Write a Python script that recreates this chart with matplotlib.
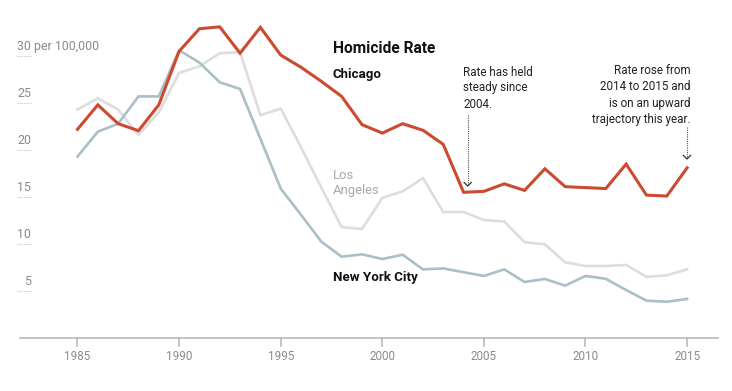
import matplotlib
matplotlib.use("Agg")
import matplotlib.pyplot as plt

years = list(range(1985, 2016))
chicago = [22.2, 24.8, 22.8, 22.05, 24.8, 30.5, 32.9, 33.1, 30.3, 33.05, 30.1, 28.8,
           27.3, 25.7, 22.7, 21.8, 22.8, 22.1, 20.6, 15.5, 15.6, 16.4, 15.7, 18.0,
           16.1, 16.0, 15.9, 18.5, 15.2, 15.1, 18.1]
la = [24.3, 25.5, 24.3, 21.6, 24.0, 28.2, 28.9, 30.3, 30.4, 23.7, 24.4, 20.3, 16.0,
      11.8, 11.6, 14.9, 15.6, 17.0, 13.4, 13.4, 12.55, 12.4, 10.2, 9.97, 8.05, 7.66,
      7.66, 7.77, 6.5, 6.67, 7.3]
nyc = [19.3, 21.95, 22.8, 25.7, 25.7, 30.6, 29.3, 27.2, 26.5, 21.2, 15.9, 13.1,
       10.25, 8.65, 8.9, 8.4, 8.86, 7.3, 7.4, 7.0, 6.6, 7.3, 5.96, 6.28, 5.57, 6.6,
       6.3, 5.1, 3.97, 3.86, 4.15]
x_ticks = [1985, 1990, 1995, 2000, 2005, 2010, 2015]
y_ticks = [5, 10, 15, 20, 25, 30]

plt.rcParams['font.family'] = ['Roboto', 'DejaVu Sans']

W, H = 732, 391
fig = plt.figure(figsize=(W / 100, H / 100), dpi=100)
ax = fig.add_axes([0, 0, 1, 1])
ax.axis('off')

# pixel mapping: 1985 -> 77.5 px, 20.32 px/yr ; value 0 -> 338 px, 9.4 px/unit
x0, xs = 77.5, 20.32
y0, ys = 338.0, 9.4
ax.set_xlim(1985 - x0 / xs, 1985 + (W - x0) / xs)
ax.set_ylim(-(H - y0) / ys, y0 / ys)

def X(px):
    return 1985 + (px - x0) / xs

def Y(py):
    return (y0 - py) / ys

red = '#cc4a2f'
nyc_c = '#aabfc6'
la_c = '#dddddd'

ax.plot(years, la, color=la_c, lw=1.9, solid_joinstyle='miter', zorder=2)
ax.plot(years, nyc, color=nyc_c, lw=1.9, solid_joinstyle='miter', zorder=3)
ax.plot(years, chicago, color=red, lw=2.2, solid_joinstyle='miter', zorder=4)

# x axis
axis_c = '#b3b3b3'
ax.plot([X(20), X(718)], [0, 0], color=axis_c, lw=1.1, zorder=1)
for t in x_ticks:
    ax.plot([t, t], [0, Y(345.5)], color=axis_c, lw=1.1, zorder=1)
    ax.text(t, Y(356), str(t), ha='center', va='center', fontsize=8.4, color='#8a8a8a')

# y labels
for v in y_ticks:
    ax.plot([X(17.3), X(31)], [v, v], color='#c2c2c2', lw=0.8, ls=(0, (1, 1)), zorder=1)
    if v == 30:
        ax.text(X(17.3), v + 1.0, '30 per 100,000', ha='left', va='center',
                fontsize=8.9, color='#8a8a8a')
    else:
        ax.text(X(31), v + 1.0, str(v), ha='right', va='center',
                fontsize=8.9, color='#8a8a8a')

# titles and series labels
ax.text(X(332.7), Y(48.5), 'Homicide Rate', ha='left', va='center', fontsize=11.2,
        fontweight='bold', color='#111111')
ax.text(X(332.7), Y(74.5), 'Chicago', ha='left', va='center', fontsize=9.5,
        fontweight='bold', color='#111111')
ax.text(X(332.7), Y(183), 'Los\nAngeles', ha='left', va='center', fontsize=9.4,
        color='#a8a8a8', linespacing=1.25)
ax.text(X(332.7), Y(278), 'New York City', ha='left', va='center', fontsize=9.6,
        fontweight='bold', color='#111111')

# annotations
ann_c = '#222222'
ax.text(X(463.3), Y(88), 'Rate has held\nsteady since\n2004.', ha='left', va='center',
        fontsize=8.4, color=ann_c, linespacing=1.3)
ax.text(X(690.7), Y(95), 'Rate rose from\n2014 to 2015 and\nis on an upward\ntrajectory this year.',
        ha='right', va='center', fontsize=8.4, color=ann_c, linespacing=1.3)

def arrow(px, top, tip):
    ax.plot([X(px), X(px)], [Y(top), Y(tip - 1)], color='#555555', lw=0.8,
            ls=(0, (1, 1)), zorder=5)
    ax.plot([X(px - 3.6), X(px), X(px + 3.6)], [Y(tip - 3.6), Y(tip), Y(tip - 3.6)],
            color='#333333', lw=0.9, zorder=5)

arrow(467.7, 115, 186)
arrow(687, 127, 159)

fig.savefig('out.png', dpi=100)
